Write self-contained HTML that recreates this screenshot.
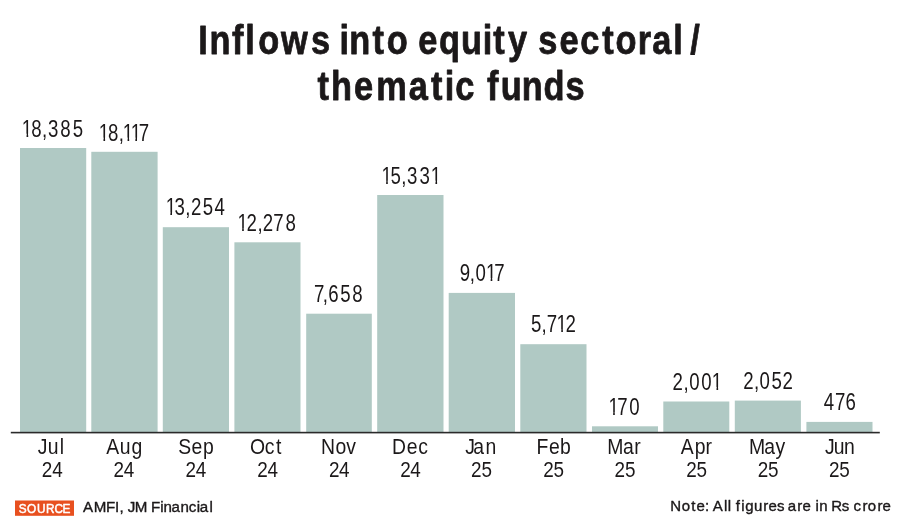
<!DOCTYPE html>
<html lang="en"><head><meta charset="utf-8"><title>Inflows into equity sectoral/thematic funds</title>
<style>
html,body{margin:0;padding:0;background:#fff;}
body{width:900px;height:524px;overflow:hidden;font-family:"Liberation Sans",sans-serif;}
svg{display:block;}
text{font-family:"Liberation Sans",sans-serif;fill:#1b1819;}
.t{font-weight:bold;}
</style></head><body>
<svg width="900" height="524" viewBox="0 0 900 524">
<rect x="0" y="0" width="900" height="524" fill="#ffffff"/>
<text class="t" transform="translate(0,54.20) scale(0.8300,1)" x="239.01 252.40 279.64 295.42 311.21 338.56 374.81 397.84 409.15 420.89 448.65 465.91 491.20 503.93 528.86 555.45 581.56 594.43 611.99 635.02 648.55 674.05 699.25 725.76 741.51 768.48 785.94 811.21 831.60" y="0" font-size="41.4" style="stroke:#1b1819;stroke-width:0.8px;stroke-linejoin:round">Inflows into equity sectoral/</text>
<text class="t" transform="translate(0,99.80) scale(0.8300,1)" x="382.62 398.88 426.46 453.44 492.45 519.25 535.78 548.53 571.55 586.75 603.22 628.54 654.86 681.38" y="0" font-size="41.4" style="stroke:#1b1819;stroke-width:0.8px;stroke-linejoin:round">thematic funds</text>
<g fill="#b0c9c4">
<rect x="20.0" y="148.0" width="66.2" height="284.0"/>
<rect x="91.3" y="151.8" width="66.3" height="280.2"/>
<rect x="162.8" y="227.2" width="66.2" height="204.8"/>
<rect x="234.4" y="242.3" width="66.1" height="189.7"/>
<rect x="306.2" y="313.7" width="65.6" height="118.3"/>
<rect x="377.2" y="195.0" width="66.3" height="237.0"/>
<rect x="448.7" y="292.9" width="66.3" height="139.1"/>
<rect x="520.3" y="344.2" width="66.2" height="87.8"/>
<rect x="592.0" y="426.3" width="66.0" height="5.7"/>
<rect x="663.3" y="401.5" width="66.0" height="30.5"/>
<rect x="734.8" y="400.6" width="66.1" height="31.4"/>
<rect x="806.4" y="421.9" width="66.1" height="10.1"/>
</g>
<rect x="10.8" y="431.8" width="869" height="1.6" fill="#2a2a2a"/>
<text transform="translate(0,136.60) scale(0.8000,1)" x="27.33 39.21 52.58 60.15 75.40 90.98" y="0" font-size="23.3">18,385</text>
<text transform="translate(0,140.50) scale(0.8000,1)" x="123.45 134.96 148.39 153.58 163.33 173.57" y="0" font-size="23.3">18,117</text>
<text transform="translate(0,215.40) scale(0.8000,1)" x="207.08 218.15 231.51 238.71 253.29 268.16" y="0" font-size="23.3">13,254</text>
<text transform="translate(0,231.00) scale(0.8000,1)" x="296.83 308.15 321.76 328.33 341.57 356.90" y="0" font-size="23.3">12,278</text>
<text transform="translate(0,302.00) scale(0.8000,1)" x="392.38 403.33 410.19 425.42 440.40" y="0" font-size="23.3">7,658</text>
<text transform="translate(0,183.50) scale(0.8000,1)" x="476.83 488.29 501.70 508.71 524.34 538.45" y="0" font-size="23.3">15,331</text>
<text transform="translate(0,281.10) scale(0.8000,1)" x="574.59 587.14 594.46 607.45 617.76" y="0" font-size="23.3">9,017</text>
<text transform="translate(0,332.10) scale(0.8000,1)" x="663.67 676.76 683.38 695.70 706.96" y="0" font-size="23.3">5,712</text>
<text transform="translate(0,414.90) scale(0.8000,1)" x="760.58 771.63 786.58" y="0" font-size="23.3">170</text>
<text transform="translate(0,389.90) scale(0.8000,1)" x="840.71 854.26 861.58 876.58 889.76" y="0" font-size="23.3">2,001</text>
<text transform="translate(0,389.00) scale(0.8000,1)" x="929.21 942.39 949.46 964.29 978.02" y="0" font-size="23.3">2,052</text>
<text transform="translate(0,410.20) scale(0.8000,1)" x="1029.84 1043.82 1056.94" y="0" font-size="23.3">476</text>
<g fill="#ffffff">
<rect x="22.08" y="133.66" width="4.47" height="3.74"/>
<rect x="28.20" y="133.66" width="4.32" height="3.74"/>
<rect x="98.98" y="137.56" width="4.47" height="3.74"/>
<rect x="105.10" y="137.56" width="4.32" height="3.74"/>
<rect x="123.08" y="137.56" width="4.47" height="3.74"/>
<rect x="129.20" y="137.56" width="4.32" height="3.74"/>
<rect x="130.88" y="137.56" width="4.47" height="3.74"/>
<rect x="137.00" y="137.56" width="4.32" height="3.74"/>
<rect x="165.88" y="212.46" width="4.47" height="3.74"/>
<rect x="172.00" y="212.46" width="4.08" height="3.74"/>
<rect x="237.68" y="228.06" width="4.47" height="3.74"/>
<rect x="243.80" y="228.06" width="3.51" height="3.74"/>
<rect x="381.68" y="180.56" width="4.47" height="3.74"/>
<rect x="387.80" y="180.56" width="4.32" height="3.74"/>
<rect x="430.98" y="180.56" width="4.47" height="3.74"/>
<rect x="437.10" y="180.56" width="4.32" height="3.74"/>
<rect x="486.18" y="278.16" width="4.47" height="3.74"/>
<rect x="492.30" y="278.16" width="4.32" height="3.74"/>
<rect x="556.78" y="329.16" width="4.47" height="3.74"/>
<rect x="562.90" y="329.16" width="3.46" height="3.74"/>
<rect x="608.68" y="411.96" width="4.47" height="3.74"/>
<rect x="614.80" y="411.96" width="4.32" height="3.74"/>
<rect x="712.03" y="386.96" width="4.47" height="3.74"/>
<rect x="718.15" y="386.96" width="4.32" height="3.74"/>
</g>
<text transform="translate(0,453.90) scale(0.9100,1)" x="41.59 52.44 65.60" y="0" font-size="21.3">Jul</text>
<text transform="translate(0,477.30) scale(0.8600,1)" x="48.42 60.64" y="0" font-size="22">24</text>
<text transform="translate(0,453.90) scale(0.9100,1)" x="116.85 131.67 144.43" y="0" font-size="21.3">Aug</text>
<text transform="translate(0,477.30) scale(0.8600,1)" x="131.91 143.84" y="0" font-size="22">24</text>
<text transform="translate(0,453.90) scale(0.9100,1)" x="195.76 210.53 223.07" y="0" font-size="21.3">Sep</text>
<text transform="translate(0,477.30) scale(0.8600,1)" x="215.80 227.73" y="0" font-size="22">24</text>
<text transform="translate(0,453.90) scale(0.9100,1)" x="274.69 290.93 303.44" y="0" font-size="21.3">Oct</text>
<text transform="translate(0,477.30) scale(0.8600,1)" x="299.11 310.93" y="0" font-size="22">24</text>
<text transform="translate(0,453.90) scale(0.9100,1)" x="352.63 368.58 380.44" y="0" font-size="21.3">Nov</text>
<text transform="translate(0,477.30) scale(0.8600,1)" x="382.43 394.18" y="0" font-size="22">24</text>
<text transform="translate(0,453.90) scale(0.9100,1)" x="430.79 447.12 459.72" y="0" font-size="21.3">Dec</text>
<text transform="translate(0,477.30) scale(0.8600,1)" x="465.39 477.15" y="0" font-size="22">24</text>
<text transform="translate(0,453.90) scale(0.9100,1)" x="511.26 520.16 533.62" y="0" font-size="21.3">Jan</text>
<text transform="translate(0,477.30) scale(0.8600,1)" x="547.55 559.78" y="0" font-size="22">25</text>
<text transform="translate(0,453.90) scale(0.9100,1)" x="589.64 603.38 615.43" y="0" font-size="21.3">Feb</text>
<text transform="translate(0,477.30) scale(0.8600,1)" x="631.67 643.73" y="0" font-size="22">25</text>
<text transform="translate(0,453.90) scale(0.9100,1)" x="667.45 684.56 697.08" y="0" font-size="21.3">Mar</text>
<text transform="translate(0,477.30) scale(0.8600,1)" x="714.52 726.75" y="0" font-size="22">25</text>
<text transform="translate(0,453.90) scale(0.9100,1)" x="748.17 763.34 775.26" y="0" font-size="21.3">Apr</text>
<text transform="translate(0,477.30) scale(0.8600,1)" x="797.84 810.01" y="0" font-size="22">25</text>
<text transform="translate(0,453.90) scale(0.9100,1)" x="823.05 839.89 852.25" y="0" font-size="21.3">May</text>
<text transform="translate(0,477.30) scale(0.8600,1)" x="881.21 893.15" y="0" font-size="22">25</text>
<text transform="translate(0,453.90) scale(0.9100,1)" x="906.65 916.24 927.47" y="0" font-size="21.3">Jun</text>
<text transform="translate(0,477.30) scale(0.8600,1)" x="964.06 975.88" y="0" font-size="22">25</text>
<rect x="15" y="500.5" width="59" height="15.3" fill="#e8501f"/>
<text transform="translate(0,512.60) scale(0.8800,1)" x="21.44 30.64 42.04 52.37 61.84 71.01" y="0" font-size="13.4" style="fill:#fff;stroke:#fff;stroke-width:0.55px;stroke-linejoin:round">SOURCE</text>
<text transform="translate(0,512.10) scale(1.0800,1)" x="76.81 86.90 98.21 106.48 110.69 114.58 118.21 124.86 136.53 139.87 148.31 151.51 158.77 167.07 174.77 182.24 185.02 193.95" y="0" font-size="14" style="stroke:#1b1819;stroke-width:0.35px;stroke-linejoin:round">AMFI, JM Financial</text>
<text transform="translate(0,511.40) scale(1.0800,1)" x="620.63 631.18 640.01 644.90 652.70 656.56 660.04 670.49 673.92 677.00 681.29 686.28 689.95 698.14 706.60 711.56 719.45 726.40 729.50 738.27 743.09 750.82 755.03 758.62 766.36 769.59 779.31 786.26 790.26 798.54 803.40 812.52 817.17" y="0" font-size="13.9" style="stroke:#1b1819;stroke-width:0.35px;stroke-linejoin:round">Note: All figures are in Rs crore</text>
</svg>
</body></html>
